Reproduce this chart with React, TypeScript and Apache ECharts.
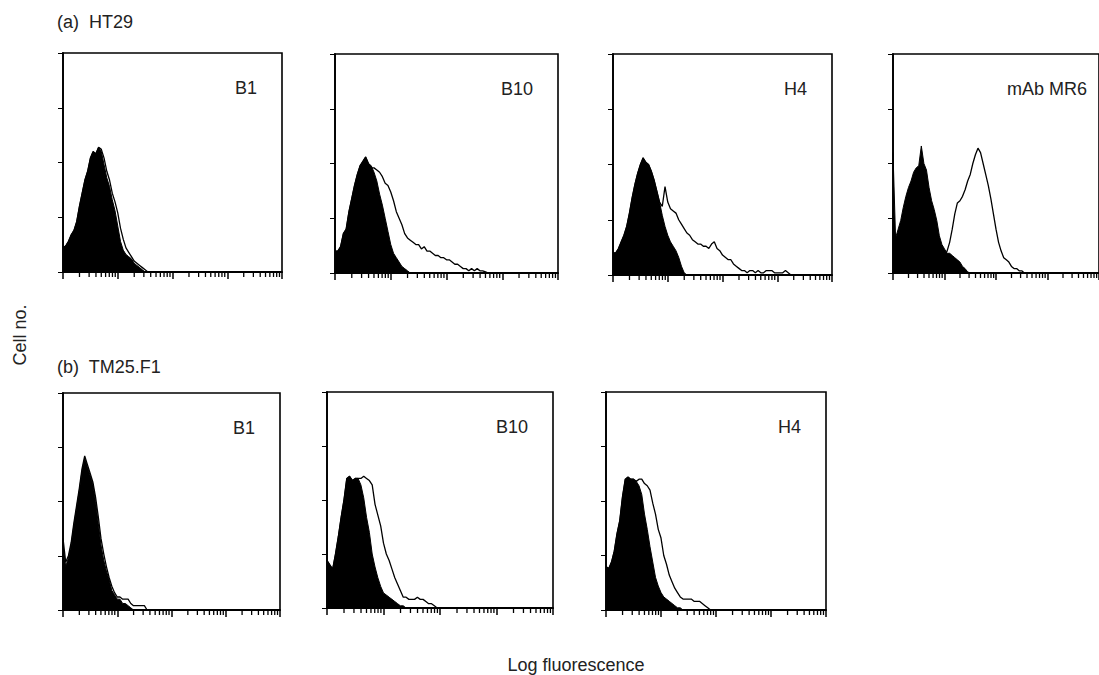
import React, { useEffect, useRef } from "react";
import * as echarts from "echarts";

// Histogram channels: one value every 0.05 decade of log fluorescence (0..4 decades)
const STEP = 0.05;
const X_DECADES = [0, 1, 2, 3, 4];
const MINOR_MULTIPLIERS = [2, 3, 4, 5, 6, 7, 8, 9];
const Y_TICKS = [0, 25, 50, 75, 100];

// Row (a) HT29 — filled = control, outline = antibody (cell no., % of full scale)
const aB1Control = [11, 12, 14, 17, 19, 23, 30, 36, 42, 46, 52, 55, 54, 57, 55, 49, 43, 39, 33, 28, 21, 14, 10, 8, 7, 6, 4, 3, 2, 1, 0];
const aB1Stained = [11, 12, 14, 17, 19, 23, 30, 36, 42, 46, 52, 55, 54, 57, 56, 52, 46, 42, 36, 32, 27, 20, 15, 11, 9, 7, 5, 4, 3, 2, 1, 0];

const aB10Control = [10, 10, 12, 18, 20, 28, 34, 40, 45, 49, 51, 53, 50, 49, 46, 42, 36, 31, 25, 19, 13, 9, 7, 5, 3, 2, 1, 0];
const aB10Stained = [10, 10, 12, 18, 20, 28, 34, 40, 45, 49, 51, 53, 50, 48, 48, 47, 46, 44, 41, 40, 37, 33, 28, 25, 22, 18, 16, 15, 14, 13, 13, 11, 12, 10, 10, 9, 8, 8, 7, 7, 6, 6, 5, 4, 4, 3, 2, 2, 1, 2, 1, 2, 1, 1, 0.5, 0];

const aH4Control = [10, 10, 12, 15, 18, 22, 28, 35, 41, 46, 50, 53, 51, 50, 47, 43, 38, 33, 27, 22, 18, 15, 13, 11, 8, 4, 1, 0];
const aH4Stained = [10, 10, 12, 15, 18, 22, 28, 35, 41, 46, 50, 53, 51, 50, 47, 43, 38, 33, 31, 40, 33, 30, 29, 28, 25, 23, 21, 19, 18, 16, 15, 14, 14, 13, 13, 12, 14, 15, 12, 11, 9, 8, 7, 7, 5, 4, 3, 2, 2, 1, 2, 2, 1, 2, 1, 1, 2, 2, 2, 1, 1, 1, 1, 2, 1, 0];

const aMR6Control = [55, 16, 20, 24, 30, 35, 39, 42, 46, 48, 49, 58, 50, 47, 39, 33, 29, 24, 17, 13, 11, 9, 9, 8, 7, 6, 5, 3, 2, 0.5, 0];
const aMR6Stained = [3, 3, 3, 4, 4, 5, 5, 6, 6, 6, 7, 7, 7, 7, 7, 7, 7, 7, 7, 7, 8, 10, 14, 20, 27, 32, 33, 35, 38, 42, 45, 50, 54, 57, 55, 50, 45, 40, 34, 27, 20, 14, 10, 7, 6, 5, 3, 2, 2, 1, 1, 0];

// Row (b) TM25.F1
const bB1Control = [30, 20, 24, 30, 39, 47, 55, 64, 70, 66, 62, 58, 50, 40, 30, 23, 18, 14, 9, 7, 5, 5, 3, 3, 2, 1, 0];
const bB1Stained = [33, 22, 25, 31, 40, 48, 56, 65, 71, 67, 63, 59, 52, 43, 33, 26, 20, 15, 11, 8, 6, 6, 5, 5, 5, 3, 2, 2, 2, 2, 2, 0];

const bB10Control = [22, 20, 18, 25, 33, 42, 50, 60, 61, 59, 60, 60, 57, 51, 42, 35, 25, 19, 14, 10, 7, 6, 5, 4, 3, 2, 1, 1, 0];
const bB10Stained = [22, 20, 18, 25, 33, 42, 50, 60, 61, 59, 60, 60, 60, 61, 60, 59, 57, 48, 43, 38, 30, 25, 22, 18, 14, 11, 8, 5, 5, 4, 4, 4, 5, 4, 4, 3, 2, 2, 1, 0];

const bH4Control = [20, 19, 22, 27, 35, 41, 52, 60, 61, 60, 60, 59, 57, 53, 44, 37, 29, 22, 15, 11, 8, 6, 5, 4, 3, 2, 1, 1, 0];
const bH4Stained = [20, 19, 22, 27, 35, 41, 52, 60, 61, 60, 60, 59, 60, 60, 58, 57, 55, 49, 44, 37, 33, 25, 21, 16, 13, 10, 8, 6, 5, 5, 5, 5, 4, 4, 4, 3, 2, 1, 0];

const PANEL_LABELS = ["B1", "B10", "H4", "mAb MR6", "B1", "B10", "H4"];
const ROW_TITLES = ["(a)  HT29", "(b)  TM25.F1"];
const Y_TITLE = "Cell no.";
const X_TITLE = "Log fluorescence";

// Layout (pixels)
const LAYOUT = [
  { left: 63, top: 53, width: 219, height: 219 },
  { left: 335, top: 54, width: 223, height: 219 },
  { left: 613, top: 54, width: 219, height: 221 },
  { left: 893, top: 54, width: 219, height: 219 },
  { left: 63, top: 393, width: 217, height: 217 },
  { left: 327, top: 392, width: 226, height: 216 },
  { left: 606, top: 392, width: 220, height: 218 },
];

const SERIES_DATA = [
  [aB1Control, aB1Stained],
  [aB10Control, aB10Stained],
  [aH4Control, aH4Stained],
  [aMR6Control, aMR6Stained],
  [bB1Control, bB1Stained],
  [bB10Control, bB10Stained],
  [bH4Control, bH4Stained],
];

const FONT = "'Liberation Sans', Arial, sans-serif";
const INK = "#000";
const TEXT = "#222";

function buildOption() {
  const minorTicks: number[][] = [];
  X_DECADES.slice(0, -1).forEach((d) =>
    MINOR_MULTIPLIERS.forEach((m) => minorTicks.push([d + Math.log10(m), 0]))
  );

  const grid: any[] = [];
  const xAxis: any[] = [];
  const yAxis: any[] = [];
  const series: any[] = [];
  const graphic: any[] = [];

  LAYOUT.forEach((g, i) => {
    grid.push({
      left: g.left,
      top: g.top,
      width: g.width,
      height: g.height,
      show: true,
      borderColor: INK,
      borderWidth: 1.6,
      backgroundColor: "transparent",
      containLabel: false,
    });
    xAxis.push({
      type: "value",
      gridIndex: i,
      min: X_DECADES[0],
      max: X_DECADES[X_DECADES.length - 1],
      interval: 1,
      axisLine: { show: true, lineStyle: { color: INK, width: 1.8 } },
      axisTick: { show: true, length: 7, inside: false, lineStyle: { color: INK, width: 1.5 } },
      axisLabel: { show: false },
      splitLine: { show: false },
    });
    yAxis.push({
      type: "value",
      gridIndex: i,
      min: Y_TICKS[0],
      max: Y_TICKS[Y_TICKS.length - 1],
      interval: Y_TICKS[1] - Y_TICKS[0],
      axisLine: { show: true, lineStyle: { color: INK, width: 1.8 } },
      axisTick: { show: true, length: 5, inside: false, lineStyle: { color: INK, width: 1 } },
      axisLabel: { show: false },
      splitLine: { show: false },
    });
    const [control, stained] = SERIES_DATA[i];
    series.push({
      type: "line",
      xAxisIndex: i,
      yAxisIndex: i,
      data: control.map((v, k) => [k * STEP, v]),
      symbol: "none",
      silent: true,
      lineStyle: { color: INK, width: 1 },
      areaStyle: { color: INK, opacity: 1 },
      z: 2,
    });
    series.push({
      type: "line",
      xAxisIndex: i,
      yAxisIndex: i,
      data: stained.map((v, k) => [k * STEP, v]),
      symbol: "none",
      silent: true,
      lineStyle: { color: INK, width: 1.3 },
      z: 3,
    });
    series.push({
      type: "custom",
      xAxisIndex: i,
      yAxisIndex: i,
      data: minorTicks,
      silent: true,
      clip: false,
      renderItem: (_p: any, api: any) => {
        const pt = api.coord([api.value(0), 0]);
        return {
          type: "line",
          shape: { x1: pt[0], y1: pt[1], x2: pt[0], y2: pt[1] + 5 },
          style: { stroke: INK, lineWidth: 1.3 },
        };
      },
      z: 4,
    });
    graphic.push({
      type: "text",
      x: g.left + g.width - 25,
      y: g.top + 35,
      style: {
        text: PANEL_LABELS[i],
        font: `18px ${FONT}`,
        fill: TEXT,
        align: "right",
        verticalAlign: "middle",
      },
    });
  });

  graphic.push(
    {
      type: "text",
      x: 57,
      y: 22,
      style: { text: ROW_TITLES[0], font: `18px ${FONT}`, fill: TEXT, align: "left", verticalAlign: "middle" },
    },
    {
      type: "text",
      x: 57,
      y: 367,
      style: { text: ROW_TITLES[1], font: `18px ${FONT}`, fill: TEXT, align: "left", verticalAlign: "middle" },
    },
    {
      type: "text",
      x: 20,
      y: 335,
      rotation: Math.PI / 2,
      style: { text: Y_TITLE, font: `18px ${FONT}`, fill: TEXT, align: "center", verticalAlign: "middle" },
    },
    {
      type: "text",
      x: 576,
      y: 665,
      style: { text: X_TITLE, font: `18px ${FONT}`, fill: TEXT, align: "center", verticalAlign: "middle" },
    }
  );

  return {
    animation: false,
    backgroundColor: "#fff",
    grid,
    xAxis,
    yAxis,
    series,
    graphic,
  };
}

export default function App() {
  const ref = useRef<HTMLDivElement>(null);
  useEffect(() => {
    if (!ref.current) return;
    const chart = echarts.init(ref.current, null, { renderer: "svg" });
    chart.setOption(buildOption() as any);
    return () => chart.dispose();
  }, []);
  return (
    <div
      ref={ref}
      style={{ position: "fixed", left: 0, top: 0, width: 1099, height: 675, background: "#fff" }}
    />
  );
}
